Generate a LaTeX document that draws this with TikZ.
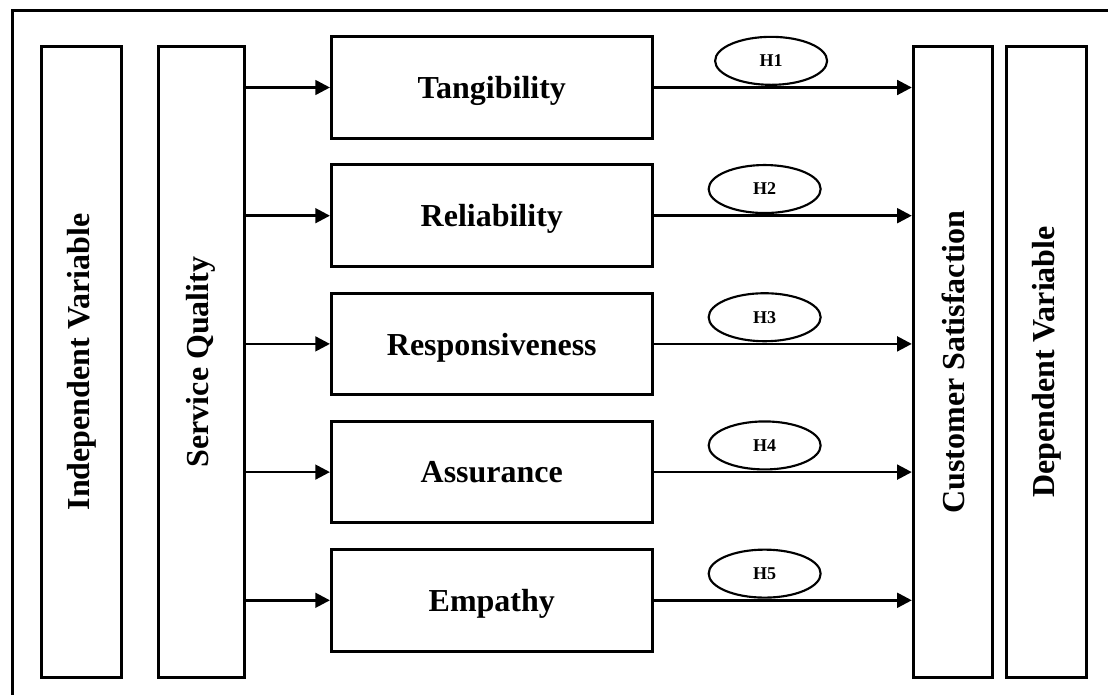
\documentclass[tikz,border=0pt]{standalone}
\usepackage{fontspec}
\setmainfont{Liberation Serif}
\usetikzlibrary{positioning,arrows.meta,shapes.geometric}

\begin{document}
\begin{tikzpicture}[x=0.75pt,y=-0.75pt,>={Triangle[length=11pt,width=11pt]},node distance=17.6pt,
  box/.style={draw,line width=2.25pt,inner sep=0pt,font=\fontsize{24}{28}\selectfont\bfseries},
  dimbox/.style={box,minimum width=240.5pt,minimum height=76.3pt,text depth=0pt},
  tallbox/.style={box,minimum height=473pt},
  hyp/.style={draw,ellipse,line width=1.6pt,inner sep=0pt,minimum width=84pt,minimum height=36pt,yshift=1.2pt,font=\fontsize{13.5}{15}\selectfont\bfseries},
  link/.style={->,line width=2pt}]
\clip (0,0) rectangle (1108,695);
% outer frame, cut by the page at right and bottom
\draw[line width=2.25pt] (12.5,11) rectangle (1130,720);

\node[tallbox,minimum width=60pt] (iv) at (81.5,362) {\rotatebox{90}{Independent Variable}};
\node[tallbox,minimum width=64.5pt] (sq) at (201.3,362) {\rotatebox{90}{Service Quality}};
\node[tallbox,minimum width=59.5pt] (cs) at (953,362) {\rotatebox{90}{Customer Satisfaction}};
\node[tallbox,minimum width=60pt] (dv) at (1046.7,362) {\rotatebox{90}{Dependent Variable}};

\node[dimbox] (tang) at (491.8,87.5) {Tangibility};
\node[dimbox] (reli) [below=of tang] {Reliability};
\node[dimbox] (resp) [below=of reli] {Responsiveness};
\node[dimbox] (assu) [below=of resp] {Assurance};
\node[dimbox] (empa) [below=of assu] {Empathy};

\draw[link] (sq.east |- tang) -- (tang.west);
\draw[link] (sq.east |- reli) -- (reli.west);
\draw[link] (sq.east |- resp) -- (resp.west);
\draw[link] (sq.east |- assu) -- (assu.west);
\draw[link] (sq.east |- empa) -- (empa.west);

\draw[link] (tang.east) -- (cs.west |- tang) node[hyp,pos=0.455,above] (h1) {H1};
\draw[link] (reli.east) -- (cs.west |- reli) node[hyp,pos=0.43,above] (h2) {H2};
\draw[link] (resp.east) -- (cs.west |- resp) node[hyp,pos=0.43,above] (h3) {H3};
\draw[link] (assu.east) -- (cs.west |- assu) node[hyp,pos=0.43,above] (h4) {H4};
\draw[link] (empa.east) -- (cs.west |- empa) node[hyp,pos=0.43,above] (h5) {H5};
\end{tikzpicture}
\end{document}
